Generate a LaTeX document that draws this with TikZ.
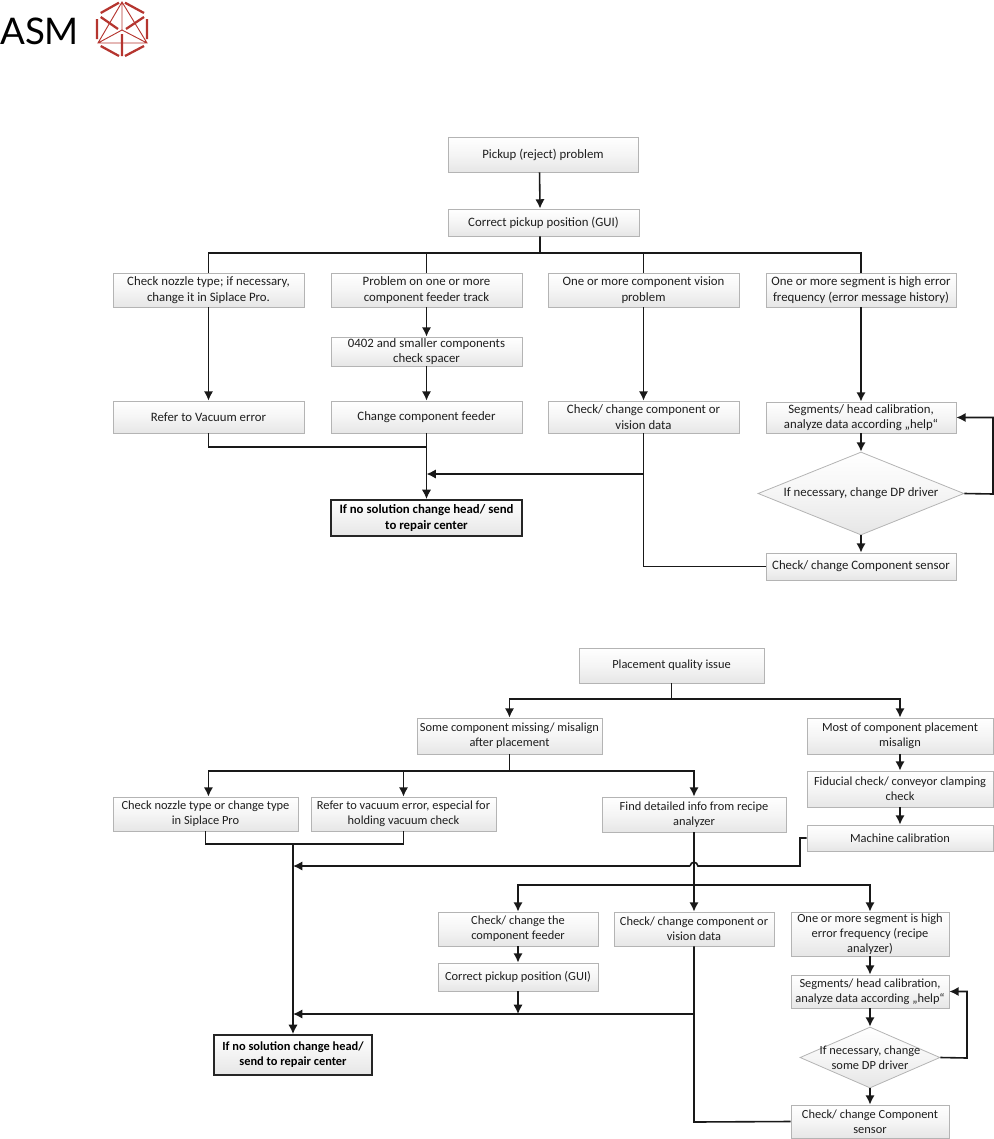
\documentclass[tikz,border=0pt]{standalone}
\usepackage{fontspec}
\setmainfont{Carlito}
\newfontfamily\logofont{Lato}
\usetikzlibrary{arrows.meta,shapes.geometric}
\definecolor{edgegray}{HTML}{B4B4B4}
\definecolor{shadegray}{HTML}{E6E6E6}
\definecolor{inkgray}{HTML}{1E1E1E}
\definecolor{logored}{HTML}{B5352F}
\tikzset{
  boxs/.style={draw=edgegray,line width=0.6pt,top color=white,bottom color=shadegray,middle color=white!60!shadegray,
    align=center,inner sep=0pt,text=inkgray,font=\fontsize{9.6}{11.6}\selectfont},
  lowbox/.style={boxs,font=\fontsize{9.3}{11.4}\selectfont},
  endbox/.style={boxs,draw=black!85,line width=1.4pt,font=\fontsize{9.6}{11.6}\selectfont\bfseries,text=black,bottom color=shadegray},
  lowend/.style={endbox,font=\fontsize{9.3}{11.4}\selectfont\bfseries},
  diam/.style={diamond,shape aspect=2.4,draw=edgegray,line width=0.6pt,top color=white,bottom color=shadegray,middle color=white!60!shadegray,
    align=center,inner sep=-9pt,text=inkgray,font=\fontsize{9.6}{11.6}\selectfont},
  lowdiam/.style={diam,font=\fontsize{9.3}{11.4}\selectfont},
  conn/.style={line width=1.2pt,draw=black!90},
  arr/.style={conn,-{Latex[length=7pt,width=7pt]}},
  thick logo/.style={draw=logored,line width=1.7pt},
  thin logo/.style={draw=logored,line width=0.7pt},
}
\newcommand{\bx}[7][boxs]{%
  \pgfmathsetlengthmacro{\bxw}{(#5-#3)*0.75pt}%
  \pgfmathsetlengthmacro{\bxh}{(#6-#4)*0.75pt}%
  \node[#1,minimum width=\bxw,minimum height=\bxh] (#2) at ({(#3+#5)/2},{(#4+#6)/2}) {#7};}
\begin{document}
\begin{tikzpicture}[x=0.75pt,y=-0.75pt]
\useasboundingbox (0,0) rectangle (993,1139);
% logo
\node[inner sep=0pt,anchor=west,font=\logofont\fontsize{27.5}{30}\selectfont] (asm) at (0,31) {ASM};
\draw[thick logo] (100.7,13)--(119,2.7) (125,2.7)--(144,13) (147,19)--(147,39) (125,56)--(144,46) (100.7,46)--(119,56) (97,19)--(97,39) (100.7,17)--(118,29) (144,17)--(126,29) (122,34)--(122,56);
\draw[thin logo] (122,2)--(98,43)--(147,43)--cycle (122,2)--(122,30) (98,43)--(122,30)--(147,43);

% --- upper chart
\bx{pick}{448}{137}{638}{172}{Pickup (reject) problem}
\bx{cor}{448}{209}{639}{236}{Correct pickup position (GUI)}
\bx{a1}{113}{273}{304}{307}{Check nozzle type; if necessary,\\change it in Siplace Pro.}
\bx{b1}{331}{273}{522}{307}{Problem on one or more\\component feeder track}
\bx{c1}{548}{273}{739}{307}{One or more component vision\\problem}
\bx{d1}{766}{273}{956}{307}{One or more segment is high error\\frequency (error message history)}
\bx{b2}{331}{337}{522}{366}{0402 and smaller components\\check spacer}
\bx{a3}{113}{401}{304}{433}{Refer to Vacuum error}
\bx{b3}{331}{401}{522}{433}{Change component feeder}
\bx{c3}{548}{401}{739}{433}{Check/ change component or\\vision data}
\bx{d3}{766}{402}{956}{433}{Segments/ head calibration,\\analyze data according „help“}
\bx[diam]{d4}{758}{452}{964}{535}{If necessary, change DP driver}
\bx{d5}{766}{553}{956}{580}{Check/ change Component sensor}
\bx[endbox]{fin1}{331}{500}{522}{536}{If no solution change head/ send\\to repair center}

\coordinate (bus1) at (540,253);
\coordinate (merge1) at (426.5,447);
\coordinate (join1) at (426.5,474);
\coordinate (elbow1) at (643.5,474);
\coordinate (loop1) at (993,494);
\draw[arr] ([xshift=-2.6pt]pick.south) -- ([xshift=-2.6pt]cor.north);
\draw[conn] ([xshift=-2.6pt]cor.south) -- (bus1);
\draw[conn] (a1.north) |- (bus1) -| (d1.north);
\draw[conn] (b1.north) -- (b1.north |- bus1);
\draw[conn] (c1.north) -- (c1.north |- bus1);
\draw[arr] (a1.south) -- (a3.north);
\draw[arr] (b1.south) -- (b2.north);
\draw[arr] (b2.south) -- (b3.north);
\draw[arr] (c1.south) -- (c3.north);
\draw[arr] (d1.south) -- (d3.north);
\draw[arr] (d3.south) -- (d4.north);
\draw[arr] (d4.south) -- (d5.north);
\draw[conn] (a3.south) |- (merge1);
\draw[arr] (b3.south) -- (fin1.north);
\draw[arr] (c3.south) -- (elbow1) -- (join1);
\draw[conn] (d5.west) -| (elbow1);
\draw[arr] (d4.east) -- (loop1) |- (d3.east);

% --- lower chart
\bx[lowbox]{p0}{579}{648}{764}{683}{Placement quality issue}
\bx[lowbox]{p1}{417}{718}{602}{754}{Some component missing/ misalign\\after placement}
\bx[lowbox]{q1}{807}{718}{993}{754}{Most of component placement\\misalign}
\bx[lowbox]{q2}{807}{771}{993}{807}{Fiducial check/ conveyor clamping\\check}
\bx[lowbox]{q3}{807}{825}{993}{851}{Machine calibration}
\bx[lowbox]{n1}{113}{797}{298}{831}{Check nozzle type or change type\\in Siplace Pro}
\bx[lowbox]{n2}{311}{797}{496}{831}{Refer to vacuum error, especial for\\holding vacuum check}
\bx[lowbox]{n3}{602}{797}{786}{832}{Find detailed info from recipe\\analyzer}
\bx[lowbox]{f1}{438}{912}{598}{946}{Check/ change the\\component feeder}
\bx[lowbox]{f2}{438}{963}{598}{991}{Correct pickup position (GUI)}
\bx[lowbox]{g1}{614}{912}{774}{946}{Check/ change component or\\vision data}
\bx[lowbox]{h1}{791}{912}{949}{956}{One or more segment is high\\error frequency (recipe\\analyzer)}
\bx[lowbox]{h2}{791}{975}{949}{1008}{Segments/ head calibration,\\analyze data according „help“}
\bx[lowdiam]{h3}{800}{1027}{940}{1088}{If necessary, change\\some DP driver}
\bx[lowbox]{h4}{791}{1105}{949}{1138}{Check/ change Component\\sensor}
\bx[lowend]{fin2}{214}{1035}{372}{1075}{If no solution change head/\\send to repair center}

\coordinate (busA) at (671.5,699);
\coordinate (busB) at (509.5,771);
\coordinate (busC) at (293,844);
\coordinate (busD) at (694,885);
\coordinate (jn1) at (293,866);
\coordinate (jn2) at (293,1014);
\coordinate (bend) at (800,838);
\coordinate (bend2) at (800,866);
\coordinate (jumpR) at (698,866);
\coordinate (jumpL) at (690,866);
\coordinate (gjoin) at (694,1014);
\coordinate (fjoin) at (518,1014);
\coordinate (gturn) at (694,1122);
\coordinate (loop2) at (967,1058);
\draw[conn] (p0.south) -- (busA);
\draw[arr] (busA) -| (p1.north);
\draw[arr] (busA) -| (q1.north);
\draw[arr] (q1.south) -- (q2.north);
\draw[arr] (q2.south) -- (q3.north);
\draw[conn] (p1.south) -- (busB);
\draw[arr] (busB) -| ([xshift=2.2pt]n1.north);
\draw[arr] (busB -| n2.north) -- (n2.north);
\draw[arr] (busB) -| (n3.north);
\draw[conn] (n1.south) |- (busC) -| (n2.south);
\draw[arr] (busC) -- (fin2.north -| busC);
\draw[conn] (q3.west) -- (bend) -- (bend2) -- (jumpR) .. controls (697,861) and (691,861) .. (jumpL);
\draw[arr] (jumpL) -- (jn1);
\draw[arr] (n3.south) -- (g1.north);
\draw[arr] (busD) -| (f1.north);
\draw[arr] (busD) -| (h1.north);
\draw[arr] (f1.south) -- (f2.north);
\draw[arr] (f2.south) -- (fjoin);
\draw[arr] (gjoin) -- (jn2);
\draw[conn] (g1.south) -- (gturn) -- (h4.west);
\draw[arr] (h1.south) -- (h2.north);
\draw[arr] (h2.south) -- (h3.north);
\draw[arr] (h3.south) -- (h4.north);
\draw[arr] (h3.east) -- (loop2) |- (h2.east);
\end{tikzpicture}
\end{document}
